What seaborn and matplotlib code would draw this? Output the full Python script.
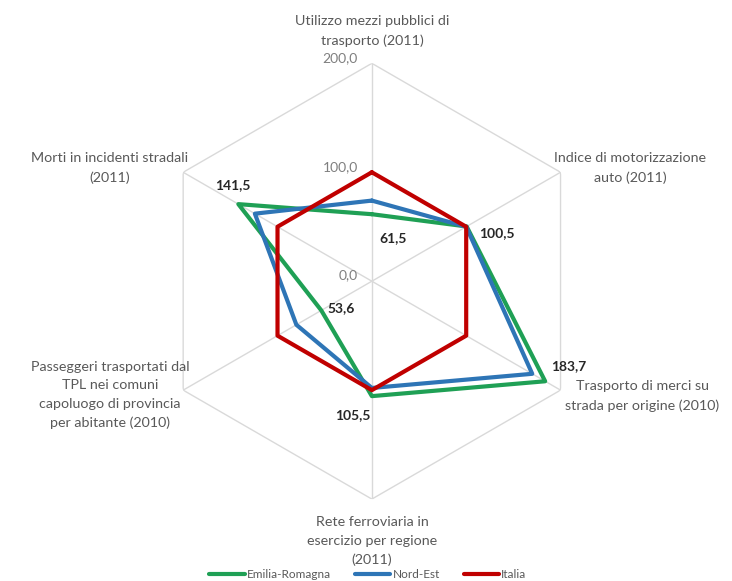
import numpy as np
import pandas as pd
import matplotlib
matplotlib.use('Agg')
import matplotlib.pyplot as plt
import seaborn as sns

# indicators, clockwise from the top
categories = [
    'Utilizzo mezzi pubblici di\ntrasporto (2011)',
    'Indice di motorizzazione\nauto (2011)',
    'Trasporto di merci su\nstrada per origine (2010)',
    'Rete ferroviaria in\nesercizio per regione\n(2011)',
    'Passeggeri trasportati dal\nTPL nei comuni\ncapoluogo di provincia\nper abitante (2010)',
    'Morti in incidenti stradali\n(2011)',
]
emilia_romagna = [61.5, 100.5, 183.7, 105.5, 53.6, 141.5]
nord_est = [74.0, 100.0, 170.0, 98.0, 80.0, 124.0]
italia = [100.0, 100.0, 100.0, 100.0, 100.0, 100.0]
series_names = ['Emilia-Romagna', 'Nord-Est', 'Italia']
grid_levels = [0, 100, 200]
grid_labels = ['0,0', '100,0', '200,0']

colors = {'Emilia-Romagna': '#1fa055', 'Nord-Est': '#2e75b6', 'Italia': '#c00000'}
text_col = '#595959'

sns.set_style('white')
plt.rcParams['font.family'] = ['Lato', 'DejaVu Sans']

n = len(categories)
angles = np.linspace(0, 2 * np.pi, n, endpoint=False)

rows = []
for name, vals in zip(series_names, [emilia_romagna, nord_est, italia]):
    for i in range(n + 1):
        rows.append({'serie': name, 'theta': 2 * np.pi * i / n, 'valore': vals[i % n], 'idx': i})
df = pd.DataFrame(rows)

fig = plt.figure(figsize=(7.32, 5.81), dpi=100)
ax = fig.add_axes([0.210, 0.141, 0.596, 0.750], projection='polar')
ax.set_theta_zero_location('N')
ax.set_theta_direction(-1)
ax.set_ylim(0, 200)
ax.grid(False)
ax.spines['polar'].set_visible(False)
ax.set_xticks([])
ax.set_yticks([])
ax.set_facecolor('none')

# hexagonal grid and spokes
closed = np.append(angles, angles[0])
for lvl in grid_levels[1:]:
    ax.plot(closed, [lvl] * (n + 1), color='#d9d9d9', lw=1, zorder=1)
for a in angles:
    ax.plot([a, a], [0, 200], color='#d9d9d9', lw=1, zorder=1)

sns.lineplot(data=df, x='theta', y='valore', hue='serie', palette=colors,
             hue_order=series_names, sort=False, estimator=None, units='serie',
             lw=3, ax=ax, legend=False, zorder=3)
ax.set_xlabel('')
ax.set_ylabel('')

# radial tick labels
for lvl, lab in zip(grid_levels, grid_labels):
    ax.annotate(lab, xy=(0, lvl), xytext=(-10, 4), textcoords='offset points',
                ha='right', va='center', fontsize=10, color='#7f7f7f')

# data labels for Emilia-Romagna
offsets = [(15, -17), (22, -5), (17, 11), (-14, -14), (14, 2), (-4, 14)]
for a, v, off in zip(angles, emilia_romagna, offsets):
    ax.annotate(f'{v:.1f}'.replace('.', ','), xy=(a, v), xytext=off,
                textcoords='offset points', ha='center', va='center',
                fontsize=10, fontweight='bold', color='#262626')

# category labels
label_pos = [(372, 31, 'center'), (630, 168, 'center'), (642, 396, 'center'),
             (372, 541, 'center'), (110, 395, 'center'), (110, 168, 'center')]
for lab, (px, py, ha) in zip(categories, label_pos):
    fig.text(px / 732, 1 - py / 581, lab, ha=ha, va='center', fontsize=10.3,
             color=text_col, linespacing=1.65)

handles = [plt.Line2D([], [], color=colors[s], lw=3) for s in series_names]
fig.legend(handles, series_names, loc='center', bbox_to_anchor=(368 / 732, 1 - 575 / 581),
           ncol=3, frameon=False, fontsize=8.5, handlelength=3.0, handletextpad=0.2,
           columnspacing=2.0, labelcolor=text_col)

fig.savefig('out.png', dpi=100, facecolor='white')
